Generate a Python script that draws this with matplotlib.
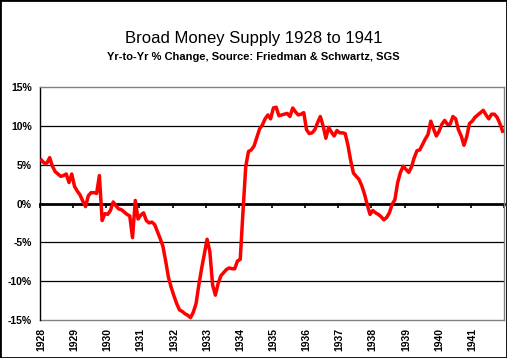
import numpy as np
import matplotlib
matplotlib.use("Agg")
import matplotlib.pyplot as plt
from matplotlib.patches import Rectangle

plt.rcParams['font.family'] = ['Liberation Sans', 'DejaVu Sans']

# monthly yr-to-yr % change, Jan 1928 .. Dec 1941
growth = [
    5.6, 5.2, 5.2, 5.9, 4.8, 4.1, 3.8, 3.5, 3.6, 3.8, 2.7, 3.8,          # 1928
    2.2, 1.6, 1.1, 0.3, -0.4, 1.0, 1.4, 1.4, 1.3, 3.6, -2.2, -1.3,       # 1929
    -1.4, -0.9, 0.2, -0.3, -0.7, -0.8, -1.1, -1.4, -1.6, -4.4, 0.4, -2.0,  # 1930
    -1.5, -1.2, -2.2, -2.5, -2.4, -2.7, -3.6, -4.5, -5.5, -7.4, -9.5, -10.8,  # 1931
    -11.9, -12.9, -13.7, -13.9, -14.2, -14.4, -14.7, -14.0, -12.9, -10.5, -8.4, -6.5,  # 1932
    -4.6, -6.2, -10.5, -11.8, -10.3, -9.3, -8.9, -8.5, -8.3, -8.4, -8.4, -7.4,  # 1933
    -7.2, -1.0, 4.8, 6.7, 6.9, 7.4, 8.5, 9.6, 10.1, 10.9, 11.4, 10.9,    # 1934
    12.3, 12.4, 11.3, 11.4, 11.5, 11.6, 11.2, 12.3, 11.8, 11.4, 11.5, 11.7,  # 1935
    9.5, 9.0, 9.1, 9.5, 10.4, 11.2, 10.0, 8.4, 9.8, 9.2, 8.7, 9.4,       # 1936
    9.1, 9.1, 9.0, 7.5, 5.5, 3.9, 3.5, 3.1, 2.3, 1.2, -0.2, -1.4,        # 1937
    -0.9, -1.2, -1.4, -1.7, -2.1, -1.8, -1.2, -0.1, 0.5, 2.7, 4.0, 4.8,  # 1938
    4.4, 4.0, 4.7, 5.9, 6.8, 6.9, 7.6, 8.3, 8.9, 10.6, 9.6, 8.7,         # 1939
    9.3, 10.2, 10.7, 10.2, 10.2, 11.2, 10.9, 9.5, 8.7, 7.5, 8.6, 10.3,   # 1940
    10.6, 11.1, 11.4, 11.7, 12.0, 11.4, 10.9, 11.5, 11.5, 11.1, 10.3, 9.3,  # 1941
]
years = list(range(1928, 1942))
y_ticks = [-15, -10, -5, 0, 5, 10, 15]
y_labels = ['-15%', '-10%', '-5%', '0%', '5%', '10%', '15%']

W, H = 507, 358
fig = plt.figure(figsize=(W / 100, H / 100), dpi=100)
ax = fig.add_axes([40 / W, (H - 320) / H, 464 / W, 233 / H])

# month i sits in the middle of its category slot
x = 1928 + (np.arange(len(growth)) + 0.5) / 12
ax.plot(x, growth, color='#ff0000', lw=2.5, solid_joinstyle='round', zorder=3)

ax.set_xlim(1928, 1942)
ax.set_ylim(-15, 15)

# gridlines
for v in [-10, -5, 5, 10]:
    ax.axhline(v, color='black', lw=0.9, zorder=1)

ax.set_yticks(y_ticks)
ax.set_yticklabels(y_labels, fontsize=7.5, fontweight='bold')
ax.tick_params(axis='y', length=0, pad=6)

# category axis crosses at 0
ax.spines['bottom'].set_position(('data', 0))
ax.spines['bottom'].set_linewidth(2)
ax.spines['bottom'].set_zorder(2)
ax.set_xticks(years + [1942])
ax.tick_params(axis='x', direction='out', length=3, width=1.2, labelbottom=False)

ax.spines['left'].set_color('black')
ax.spines['left'].set_linewidth(1)
for s in ['top', 'right']:
    ax.spines[s].set_color('#808080')
    ax.spines[s].set_linewidth(1)

# year labels along the bottom of the plot area
sec = ax.secondary_xaxis('bottom')
sec.set_xticks([yr + 0.5 / 12 for yr in years])
sec.set_xticklabels([str(yr) for yr in years], rotation=90,
                    fontsize=7.5, fontweight='bold')
sec.tick_params(length=0, pad=6)
sec.spines['bottom'].set_color('#808080')
sec.spines['bottom'].set_linewidth(1)

fig.text(0.5, 1 - 39 / H, 'Broad Money Supply 1928 to 1941',
         ha='center', va='center', fontsize=12)
fig.text(0.5, 1 - 57 / H, 'Yr-to-Yr % Change, Source: Friedman & Schwartz, SGS',
         ha='center', va='center', fontsize=8, fontweight='bold')

fig.patches.append(Rectangle((0, 0), 1, 1, transform=fig.transFigure,
                             fill=False, edgecolor='black', lw=2))

fig.savefig('out.png', dpi=100)
